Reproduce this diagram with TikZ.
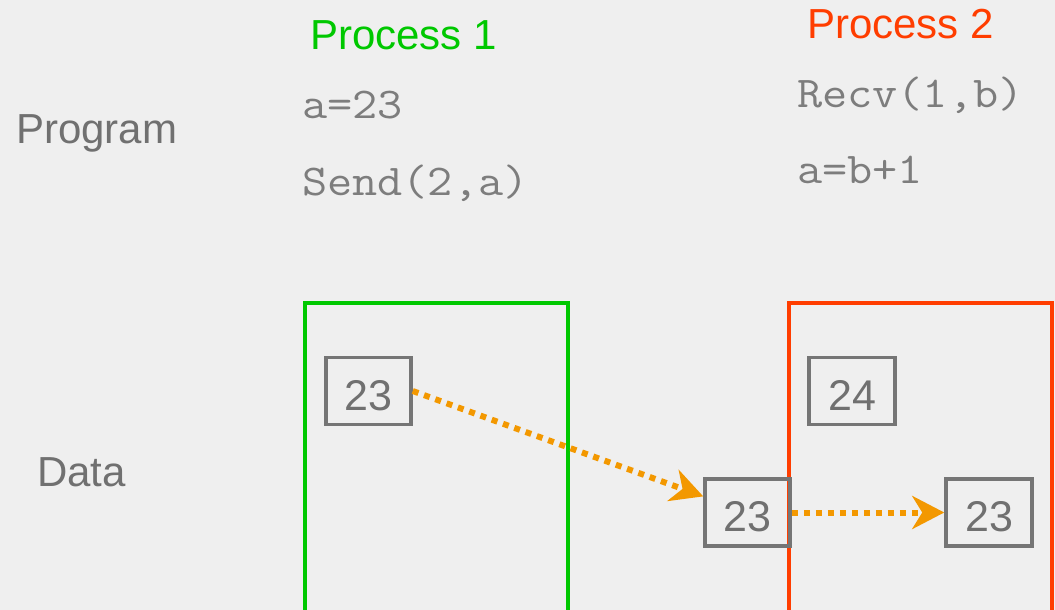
\documentclass[tikz,border=0pt]{standalone}
\usepackage{fontspec}
\setmainfont{Liberation Sans}
\usetikzlibrary{arrows.meta}
\definecolor{bg}{RGB}{239,239,239}
\definecolor{pgreen}{RGB}{0,200,0}
\definecolor{pred}{RGB}{255,61,0}
\definecolor{msg}{RGB}{243,152,0}
\definecolor{boxgray}{RGB}{117,117,117}
\definecolor{txtgray}{RGB}{112,112,112}
\definecolor{codegray}{RGB}{125,125,125}
\newcommand{\code}[1]{\scalebox{1.11}[1]{\ttfamily\fontsize{44}{44}\selectfont #1}}
\begin{document}
\begin{tikzpicture}[x=1pt,y=-1pt,
  label/.style={font=\fontsize{42}{42}\selectfont, text=txtgray, inner sep=0pt, anchor=base west},
  codeline/.style={text=codegray, inner sep=0pt, anchor=base west},
  title/.style={font=\fontsize{42}{42}\selectfont, inner sep=0pt, anchor=base west},
  proc/.style={draw=#1, line width=3.5pt, minimum width=263pt, minimum height=400pt, inner sep=0pt},
  cell/.style={draw=boxgray, line width=3.5pt, minimum width=85pt, minimum height=67pt, inner sep=0pt,
    text=txtgray, font=\fontsize{43}{43}\selectfont, text height=38pt, text depth=0pt},
  message/.style={draw=msg, line width=6pt, dash pattern=on 6pt off 6pt,
    -{Stealth[length=32pt, width=33pt, inset=10pt]}}]
  \fill[bg] (0,0) rectangle (1055,610);
  \useasboundingbox (0,0) rectangle (1055,610);
  \clip (0,0) rectangle (1055,610);

  % process columns (open at the bottom edge)
  \node[proc=pgreen] (p1) at (436.5,503) {};
  \node[proc=pred] (p2) at (920.5,503) {};

  % titles and row labels
  \node[title, text=pgreen] (t1) at (310,50) {Process 1};
  \node[title, text=pred] (t2) at (807,39) {Process 2};
  \node[label] (prog) at (16,143) {Program};
  \node[label] (data) at (37,486) {Data};

  % program text
  \node[codeline] (c1) at (302,118) {\code{a=23}};
  \node[codeline] (c2) at (302,195) {\code{Send(2,a)}};
  \node[codeline] (c3) at (797,107) {\code{Recv(1,b)}};
  \node[codeline] (c4) at (797,183) {\code{a=b+1}};

  % data cells
  \node[cell] (a1) at (368.5,391) {23};
  \node[cell, minimum width=86pt] (b2) at (852,391) {24};
  \node[cell] (buf) at (747.5,512.5) {23};
  \node[cell, minimum width=86pt] (b1) at (989,512.5) {23};

  % messages
  \draw[message] (a1.east) -- (buf.160);
  \draw[message] (buf.east) -- (b1.west);
\end{tikzpicture}
\end{document}
